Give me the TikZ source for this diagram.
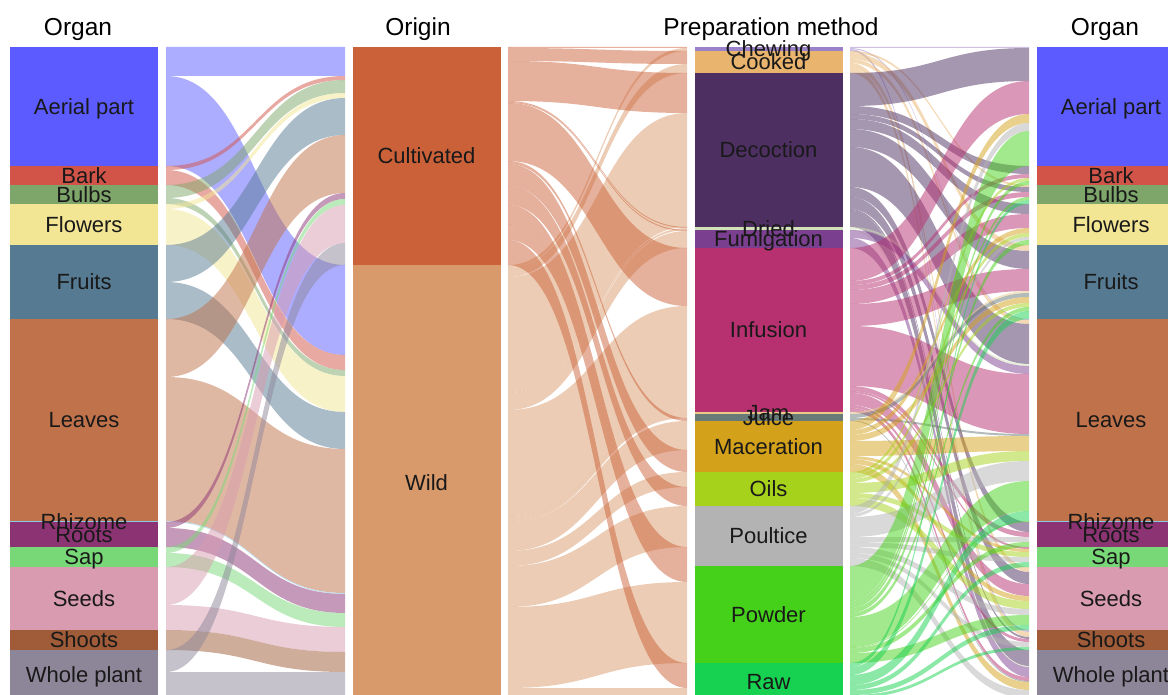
\documentclass[tikz,border=0pt]{standalone}
\usepackage{fontspec}
\setmainfont{Liberation Sans}
% organ colours
\definecolor{cAerial}{HTML}{5B5BFF}
\definecolor{cBark}{HTML}{D25448}
\definecolor{cBulbs}{HTML}{7EA56A}
\definecolor{cFlowers}{HTML}{F2E594}
\definecolor{cFruits}{HTML}{567A92}
\definecolor{cLeaves}{HTML}{C0724A}
\definecolor{cRhizome}{HTML}{8CC8E8}
\definecolor{cRoots}{HTML}{8C3373}
\definecolor{cSap}{HTML}{78D878}
\definecolor{cSeeds}{HTML}{D89BAF}
\definecolor{cShoots}{HTML}{A05B38}
\definecolor{cWhole}{HTML}{8D8699}
% origin colours
\definecolor{cCult}{HTML}{CB6139}
\definecolor{cWild}{HTML}{D99A6B}
% preparation colours
\definecolor{cChewing}{HTML}{9B82C8}
\definecolor{cCooked}{HTML}{E8B46E}
\definecolor{cDecoction}{HTML}{4E2F62}
\definecolor{cDried}{HTML}{D2E2B8}
\definecolor{cFumigation}{HTML}{7B3F8F}
\definecolor{cInfusion}{HTML}{B7306F}
\definecolor{cJam}{HTML}{E8CB8A}
\definecolor{cJuice}{HTML}{687A78}
\definecolor{cMaceration}{HTML}{D4A11A}
\definecolor{cOils}{HTML}{A6D21B}
\definecolor{cPoultice}{HTML}{B3B3B3}
\definecolor{cPowder}{HTML}{45D119}
\definecolor{cRaw}{HTML}{17D150}

\newcommand\setptr[2]{\expandafter\xdef\csname aptr@#1\endcsname{#2}}
\newcommand\getptr[1]{\csname aptr@#1\endcsname}
% explicit band: xl, xr, yl, yr, width, colour
\newcommand\flowe[6]{%
  \pgfmathsetmacro\fXm{(#1+#2)/2}%
  \pgfmathsetmacro\fYlb{#3+#5}%
  \pgfmathsetmacro\fYrb{#4+#5}%
  \fill[#6,fill opacity=0.5] (#1,#3) .. controls (\fXm,#3) and (\fXm,#4) .. (#2,#4)
     -- (#2,\fYrb) .. controls (\fXm,\fYrb) and (\fXm,\fYlb) .. (#1,\fYlb) -- cycle;%
}
% pointer band: xl, xr, left pointer, right pointer, width, colour
\newcommand\flowp[6]{%
  \edef\fA{\getptr{#3}}\edef\fB{\getptr{#4}}%
  \flowe{#1}{#2}{\fA}{\fB}{#5}{#6}%
  \pgfmathsetmacro\fC{\fA+#5}\setptr{#3}{\fC}%
  \pgfmathsetmacro\fD{\fB+#5}\setptr{#4}{\fD}%
}
\newcommand\gone[3]{\flowp{166}{345}{G#1}{#2}{#3}{c#1}}
\newcommand\gtwo[4]{\flowe{508}{687}{#1}{#2}{#3}{#4}}
\newcommand\gthree[3]{\flowp{850}{1029}{P#1}{O#2}{#3}{c#1}}
% stratum: x left, y top, y bottom, colour
\newcommand\stratum[4]{\fill[#4] (#1,#2) rectangle ++(148,#3-#2);}

\tikzset{
  ttl/.style={font=\fontsize{24.5}{29}\selectfont, text=black, inner sep=0pt},
  lab/.style={font=\fontsize{22}{26}\selectfont, text=black!90, inner sep=0pt,
              text height=1.38ex, text depth=0pt, yshift=-4pt},
}

\begin{document}
\begin{tikzpicture}[x=1pt,y=-1pt]
\useasboundingbox (0,0) rectangle (1168,695);
\clip (0,0) rectangle (1168,695);

% pointers
\setptr{GAerial}{47}\setptr{GBark}{166}\setptr{GBulbs}{185}\setptr{GFlowers}{204}
\setptr{GFruits}{245}\setptr{GLeaves}{319}\setptr{GRhizome}{521}\setptr{GRoots}{522}
\setptr{GSap}{547}\setptr{GSeeds}{567}\setptr{GShoots}{630}\setptr{GWhole}{650}
\setptr{OAerial}{47}\setptr{OBark}{166}\setptr{OBulbs}{185}\setptr{OFlowers}{204}
\setptr{OFruits}{245}\setptr{OLeaves}{319}\setptr{ORhizome}{521}\setptr{ORoots}{522}
\setptr{OSap}{547}\setptr{OSeeds}{567}\setptr{OShoots}{630}\setptr{OWhole}{650}
\setptr{Cult}{47}\setptr{Wild}{265}
\setptr{PChewing}{47}\setptr{PCooked}{51}\setptr{PDecoction}{73}\setptr{PDried}{227}
\setptr{PFumigation}{230}\setptr{PInfusion}{248}\setptr{PJam}{412}\setptr{PJuice}{414}
\setptr{PMaceration}{421}\setptr{POils}{472}\setptr{PPoultice}{506}\setptr{PPowder}{566}
\setptr{PRaw}{663}

% ---- gap 1: organ -> origin
\gone{Aerial}{Cult}{29}\gone{Aerial}{Wild}{90}
\gone{Bark}{Cult}{4}\gone{Bark}{Wild}{15}
\gone{Bulbs}{Cult}{13}\gone{Bulbs}{Wild}{6}
\gone{Flowers}{Cult}{5}\gone{Flowers}{Wild}{36}
\gone{Fruits}{Cult}{37}\gone{Fruits}{Wild}{37}
\gone{Leaves}{Cult}{58}\gone{Leaves}{Wild}{144}
\gone{Rhizome}{Wild}{1}
\gone{Roots}{Cult}{6}\gone{Roots}{Wild}{19}
\gone{Sap}{Cult}{6}\gone{Sap}{Wild}{14}
\gone{Seeds}{Cult}{38}\gone{Seeds}{Wild}{25}
\gone{Shoots}{Wild}{20}
\gone{Whole}{Cult}{22}\gone{Whole}{Wild}{28}

% ---- gap 2: origin -> preparation
\gtwo{265}{48}{3}{cWild}
\gtwo{268}{64}{9}{cWild}
\gtwo{277}{113}{114}{cWild}
\gtwo{391}{228}{2}{cWild}
\gtwo{393}{231}{17}{cWild}
\gtwo{410}{306}{106}{cWild}
\gtwo{516}{412}{2}{cWild}
\gtwo{518}{414}{4}{cWild}
\gtwo{522}{421}{29}{cWild}
\gtwo{551}{472}{15}{cWild}
\gtwo{566}{506}{41}{cWild}
\gtwo{607}{582}{81}{cWild}
\gtwo{688}{688}{12}{cWild}
\gtwo{47}{47}{1}{cCult}
\gtwo{48}{51}{13}{cCult}
\gtwo{61}{73}{40}{cCult}
\gtwo{101}{227}{1}{cCult}
\gtwo{102}{230}{1}{cCult}
\gtwo{103}{248}{58}{cCult}
\gtwo{161}{418}{3}{cCult}
\gtwo{164}{450}{22}{cCult}
\gtwo{186}{487}{19}{cCult}
\gtwo{205}{547}{19}{cCult}
\gtwo{224}{566}{16}{cCult}
\gtwo{240}{663}{25}{cCult}

% ---- gap 3: preparation -> organ
\gthree{Chewing}{Aerial}{1}\gthree{Chewing}{Leaves}{1}\gthree{Chewing}{Shoots}{2}
\gthree{Cooked}{Bulbs}{2}\gthree{Cooked}{Fruits}{6}\gthree{Cooked}{Leaves}{4}
\gthree{Cooked}{Seeds}{5}\gthree{Cooked}{Shoots}{5}
\gthree{Decoction}{Aerial}{33}\gthree{Decoction}{Bark}{8}\gthree{Decoction}{Bulbs}{5}
\gthree{Decoction}{Flowers}{10}\gthree{Decoction}{Fruits}{18}\gthree{Decoction}{Leaves}{40}
\gthree{Decoction}{Roots}{10}\gthree{Decoction}{Seeds}{12}\gthree{Decoction}{Shoots}{2}
\gthree{Decoction}{Whole}{16}
\gthree{Dried}{Leaves}{2}\gthree{Dried}{Whole}{1}
\gthree{Fumigation}{Leaves}{8}\gthree{Fumigation}{Whole}{10}
\gthree{Infusion}{Aerial}{33}\gthree{Infusion}{Bark}{4}\gthree{Infusion}{Bulbs}{5}
\gthree{Infusion}{Flowers}{14}\gthree{Infusion}{Fruits}{22}\gthree{Infusion}{Leaves}{60}
\gthree{Infusion}{Roots}{5}\gthree{Infusion}{Sap}{2}\gthree{Infusion}{Seeds}{12}
\gthree{Infusion}{Shoots}{3}\gthree{Infusion}{Whole}{4}
\gthree{Jam}{Fruits}{2}
\gthree{Juice}{Fruits}{4}\gthree{Juice}{Leaves}{2}\gthree{Juice}{Whole}{1}
\gthree{Maceration}{Aerial}{9}\gthree{Maceration}{Flowers}{5}\gthree{Maceration}{Fruits}{6}
\gthree{Maceration}{Leaves}{15}\gthree{Maceration}{Sap}{3}\gthree{Maceration}{Seeds}{5}
\gthree{Maceration}{Whole}{8}
\gthree{Oils}{Bark}{3}\gthree{Oils}{Flowers}{4}\gthree{Oils}{Fruits}{4}
\gthree{Oils}{Leaves}{10}\gthree{Oils}{Sap}{5}\gthree{Oils}{Seeds}{8}
\gthree{Poultice}{Aerial}{8}\gthree{Poultice}{Flowers}{3}\gthree{Poultice}{Leaves}{20}
\gthree{Poultice}{Roots}{5}\gthree{Poultice}{Sap}{5}\gthree{Poultice}{Seeds}{6}
\gthree{Poultice}{Shoots}{5}\gthree{Poultice}{Whole}{8}
\gthree{Powder}{Aerial}{35}\gthree{Powder}{Bark}{4}\gthree{Powder}{Bulbs}{3}
\gthree{Powder}{Flowers}{5}\gthree{Powder}{Fruits}{4}\gthree{Powder}{Leaves}{30}
\gthree{Powder}{Rhizome}{1}\gthree{Powder}{Roots}{5}\gthree{Powder}{Seeds}{10}
\gthree{Raw}{Bulbs}{4}\gthree{Raw}{Fruits}{8}\gthree{Raw}{Leaves}{10}
\gthree{Raw}{Sap}{5}\gthree{Raw}{Seeds}{5}\gthree{Raw}{Shoots}{3}\gthree{Raw}{Whole}{2}

% ---- strata: organ columns (left and right)
\foreach \cx in {10,1037}{
  \stratum{\cx}{47}{166}{cAerial}
  \stratum{\cx}{166}{185}{cBark}
  \stratum{\cx}{185}{204}{cBulbs}
  \stratum{\cx}{204}{245}{cFlowers}
  \stratum{\cx}{245}{319}{cFruits}
  \stratum{\cx}{319}{521}{cLeaves}
  \stratum{\cx}{521}{522}{cRhizome}
  \stratum{\cx}{522}{547}{cRoots}
  \stratum{\cx}{547}{567}{cSap}
  \stratum{\cx}{567}{630}{cSeeds}
  \stratum{\cx}{630}{650}{cShoots}
  \stratum{\cx}{650}{700}{cWhole}
}
% origin
\stratum{353}{47}{265}{cCult}
\stratum{353}{265}{700}{cWild}
% preparation
\stratum{695}{47}{51}{cChewing}
\stratum{695}{51}{73}{cCooked}
\stratum{695}{73}{227}{cDecoction}
\stratum{695}{227}{230}{cDried}
\stratum{695}{230}{248}{cFumigation}
\stratum{695}{248}{412}{cInfusion}
\stratum{695}{412}{414}{cJam}
\stratum{695}{414}{421}{cJuice}
\stratum{695}{421}{472}{cMaceration}
\stratum{695}{472}{506}{cOils}
\stratum{695}{506}{566}{cPoultice}
\stratum{695}{566}{663}{cPowder}
\stratum{695}{663}{700}{cRaw}

% ---- titles
\node[ttl] (t1) at (78,29) {Organ};
\node[ttl] (t2) at (418,29) {Origin};
\node[ttl] (t3) at (771,29) {Preparation method};
\node[ttl] (t4) at (1105,29) {Organ};

% ---- labels organ (left L, right R)
\foreach \cx/\sd in {84/L,1111/R}{
  \node[lab] (aer\sd) at (\cx,106.5) {Aerial part};
  \node[lab] (bar\sd) at (\cx,175.5) {Bark};
  \node[lab] (bul\sd) at (\cx,194.5) {Bulbs};
  \node[lab] (flo\sd) at (\cx,224.5) {Flowers};
  \node[lab] (fru\sd) at (\cx,282) {Fruits};
  \node[lab] (lea\sd) at (\cx,420) {Leaves};
  \node[lab] (rhi\sd) at (\cx,521.5) {Rhizome};
  \node[lab] (roo\sd) at (\cx,534.5) {Roots};
  \node[lab] (sap\sd) at (\cx,557) {Sap};
  \node[lab] (see\sd) at (\cx,598.5) {Seeds};
  \node[lab] (sho\sd) at (\cx,640) {Shoots};
  \node[lab] (who\sd) at (\cx,675) {Whole plant};
}
\node[lab] (cul) at (426.5,156) {Cultivated};
\node[lab] (wil) at (426.5,482.5) {Wild};
\node[lab] (che) at (768.5,49) {Chewing};
\node[lab] (coo) at (768.5,62) {Cooked};
\node[lab] (dec) at (768.5,150) {Decoction};
\node[lab] (dri) at (768.5,228.5) {Dried};
\node[lab] (fum) at (768.5,239) {Fumigation};
\node[lab] (inf) at (768.5,330) {Infusion};
\node[lab] (jam) at (768.5,413) {Jam};
\node[lab] (jui) at (768.5,417.5) {Juice};
\node[lab] (mac) at (768.5,446.5) {Maceration};
\node[lab] (oil) at (768.5,489) {Oils};
\node[lab] (pou) at (768.5,536) {Poultice};
\node[lab] (pow) at (768.5,614.5) {Powder};
\node[lab] (raw) at (768.5,681.5) {Raw};
\end{tikzpicture}
\end{document}
